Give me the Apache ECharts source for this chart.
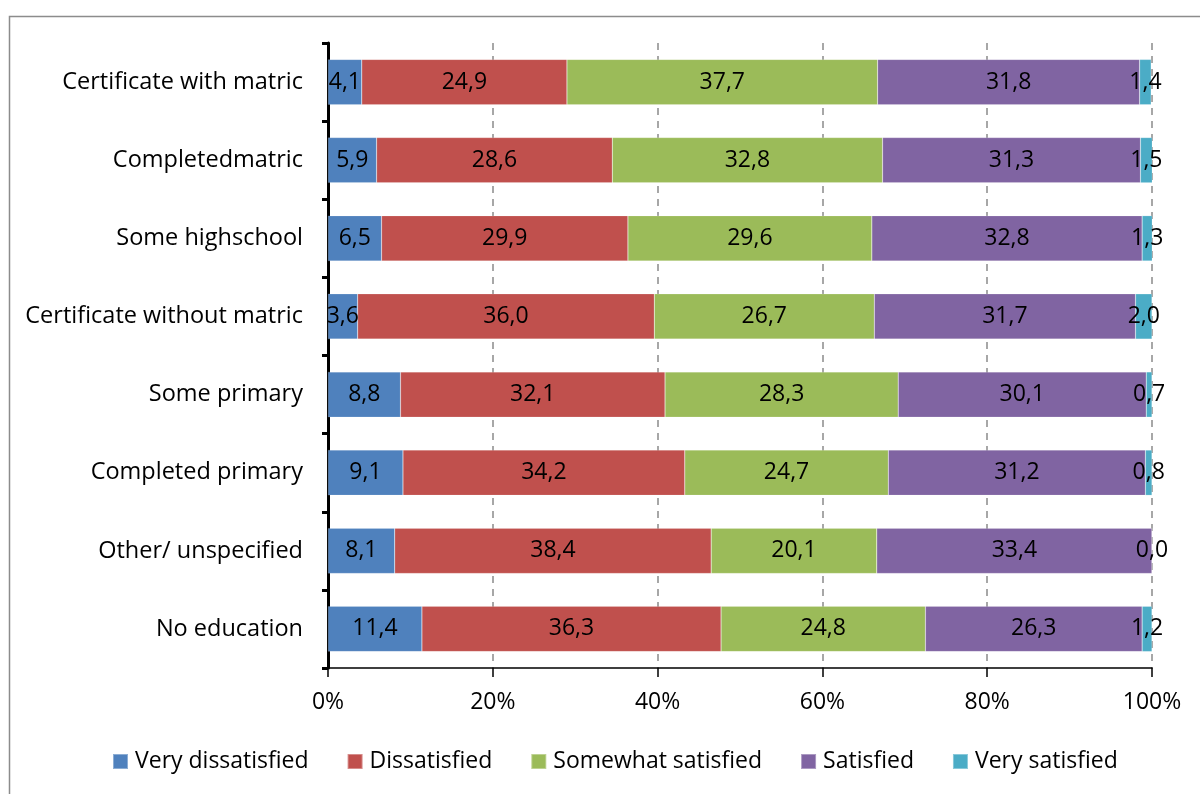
<!DOCTYPE html>
<html>
<head>
<meta charset="utf-8">
<script src="https://cdn.jsdelivr.net/npm/echarts@6/dist/echarts.min.js"></script>
<style>
  html, body { margin: 0; padding: 0; background: #fff; }
  #chart { width: 1200px; height: 794px; }
</style>
</head>
<body>
<div id="chart"></div>
<script>
// Education levels, listed bottom to top
const categories = [
  'No education',
  'Other/ unspecified',
  'Completed primary',
  'Some primary',
  'Certificate without matric',
  'Some highschool',
  'Completedmatric',
  'Certificate with matric'
];

const seriesNames = ['Very dissatisfied', 'Dissatisfied', 'Somewhat satisfied', 'Satisfied', 'Very satisfied'];

// Share of respondents (%) per satisfaction level
const veryDissatisfied  = [11.4, 8.1, 9.1, 8.8, 3.6, 6.5, 5.9, 4.1];
const dissatisfied      = [36.3, 38.4, 34.2, 32.1, 36.0, 29.9, 28.6, 24.9];
const somewhatSatisfied = [24.8, 20.1, 24.7, 28.3, 26.7, 29.6, 32.8, 37.7];
const satisfied         = [26.3, 33.4, 31.2, 30.1, 31.7, 32.8, 31.3, 31.8];
const verySatisfied     = [1.2, 0.0, 0.8, 0.7, 2.0, 1.3, 1.5, 1.4];

const xTicks = [0, 20, 40, 60, 80, 100];

const colors = ['#4F81BD', '#C0504D', '#9BBB59', '#8064A2', '#4BACC6'];
const values = [veryDissatisfied, dissatisfied, somewhatSatisfied, satisfied, verySatisfied];

const FONT = 'Open Sans';
const FS = 23;

const chart = echarts.init(document.getElementById('chart'));

chart.setOption({
  animation: false,
  textStyle: { fontFamily: FONT },
  graphic: [{
    type: 'rect',
    left: 7, top: 14,
    shape: { width: 1300, height: 900 },
    style: { fill: 'none', stroke: '#8c8c8c', lineWidth: 1.5 },
    silent: true
  }],
  grid: { left: 328, right: 48, top: 43, bottom: 126, containLabel: false },
  legend: {
    top: 745,
    left: 107,
    itemWidth: 15,
    itemHeight: 15,
    itemGap: 38,
    icon: 'rect',
    textStyle: { fontFamily: FONT, fontSize: FS, color: '#000', padding: [0, 0, 0, 2] },
    data: seriesNames
  },
  xAxis: {
    type: 'value',
    min: 0, max: 100, interval: 20,
    axisLine: { show: true, lineStyle: { color: '#000', width: 1.5 } },
    axisTick: { show: true, length: 9, lineStyle: { color: '#000', width: 1.5 } },
    axisLabel: {
      margin: 23, fontSize: FS, color: '#000', fontFamily: FONT,
      formatter: v => xTicks.includes(v) ? v + '%' : ''
    },
    splitLine: { show: true, lineStyle: { color: '#8a8a8a', type: [7, 6], width: 1.5 } }
  },
  yAxis: {
    type: 'category',
    data: categories,
    axisLine: { show: true, lineStyle: { color: '#000', width: 3 } },
    axisTick: { show: true, length: 6, lineStyle: { color: '#000', width: 3 } },
    axisLabel: { margin: 25, fontSize: 23.5, color: '#000', fontFamily: FONT, padding: [3, 0, 0, 0] },
    splitLine: { show: false }
  },
  series: seriesNames.map((name, i) => ({
    name,
    type: 'bar',
    stack: 'total',
    barCategoryGap: '42%',
    data: values[i],
    itemStyle: { color: colors[i], borderColor: 'rgba(255,255,255,0.35)', borderWidth: 0.5 },
    label: {
      show: true,
      position: 'inside',
      fontSize: FS,
      fontFamily: FONT,
      color: '#000',
      formatter: p => p.value.toFixed(1).replace('.', ',')
    },
    labelLayout: { hideOverlap: false }
  }))
});
</script>
</body>
</html>
